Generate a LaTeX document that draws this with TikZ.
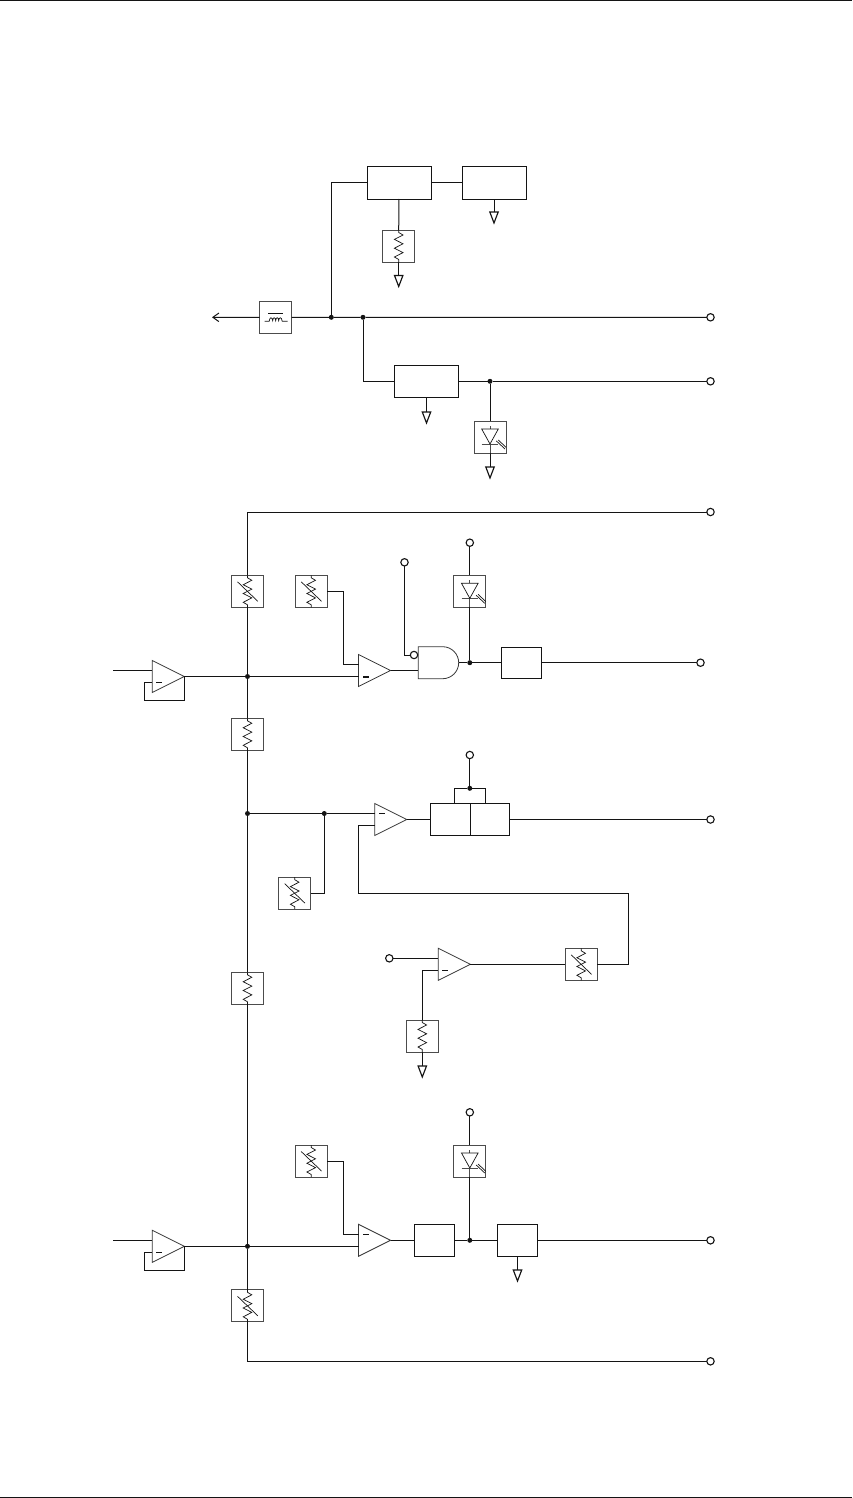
\documentclass[tikz,border=0pt]{standalone}
\usetikzlibrary{arrows.meta}
\definecolor{ink}{gray}{0.08}
\definecolor{soft}{gray}{0.3}
\tikzset{
  wire/.style={draw=ink,line width=1pt},
  blk/.style={draw=ink,line width=0.95pt,rectangle,inner sep=0pt,outer sep=0pt,fill=white},
  sqbox/.style={draw=soft,line width=0.95pt,rectangle,inner sep=0pt,outer sep=0pt,minimum width=32pt,minimum height=32pt,fill=white},
  glyph/.style={draw=ink,line width=0.7pt},
  softglyph/.style={draw=soft,line width=0.9pt},
  term/.style={draw=ink,line width=1.1pt,circle,fill=white,inner sep=0pt,outer sep=0pt,minimum size=7.4pt},
  jun/.style={fill=ink,circle,inner sep=0pt,outer sep=0pt,minimum size=5pt},
  gndtri/.style={draw=ink,line width=1.15pt,fill=white,line join=miter},
  amptri/.style={draw=ink!85,line width=0.8pt,fill=white},
  minus/.style={draw=ink,line width=0.75pt},
  boldminus/.style={draw=ink,line width=1.6pt}
}
% resistor zigzag inside box #1
\newcommand{\zigzag}[1]{\draw[glyph,shift={(#1.center)}]
  (0,-16) -- (0,-13.5) -- (4.3,-11) -- (-4.3,-6.6) -- (4.3,-2.2) -- (-4.3,2.2) -- (4.3,6.6) -- (-4.3,11) -- (0,13.5) -- (0,16);}
\newcommand{\resbox}[2]{\node[sqbox] (#1) at (#2) {};\zigzag{#1}}
\newcommand{\varbox}[2]{\node[sqbox] (#1) at (#2) {};\zigzag{#1}
  \draw[glyph,shift={(#1.center)}] (-10,-9.5) -- (10.3,10);}
\newcommand{\ledbox}[2]{\node[sqbox] (#1) at (#2) {};
  \draw[softglyph,shift={(#1.center)}] (0,-11) -- (0,-8) (0,7) -- (0,16) (-8.3,7) -- (8.3,7);
  \draw[glyph,shift={(#1.center)}] (-8.3,-8) -- (8.3,-8) -- (0,7) -- cycle;
  \draw[glyph,shift={(#1.center)}] (6.3,3.9) -- (15,12) (8.3,3) -- (16,10.3);}
% amplifier: name, tip y, left x
\newcommand{\amp}[3]{%
  \coordinate (#1-tip) at (#3+32,#2);
  \coordinate (#1-up) at (#3,#2-6);
  \coordinate (#1-dn) at (#3,#2+6);
  \draw[amptri] (#3,#2-16) -- (#3+32,#2) -- (#3,#2+16) -- cycle;}
% ground: name, x, top y
\newcommand{\gnd}[3]{%
  \coordinate (#1) at (#2,#3);
  \draw[gndtri] (#2-4.2,#3) -- (#2+4.2,#3) -- (#2,#3+11) -- cycle;}
\begin{document}
\begin{tikzpicture}[x=1pt,y=-1pt]
\useasboundingbox (0,0) rectangle (852,1498);
\fill[white] (0,0) rectangle (852,1498);
\draw[wire] (0,0.5) -- (852,0.5);
\draw[wire] (0,1497.2) -- (852,1497.2);

% ---------- top section
\node[blk,minimum width=64pt,minimum height=33pt] (A) at (399,182.5) {};
\node[blk,minimum width=64pt,minimum height=33pt] (B) at (494,182.5) {};
\resbox{RA}{398.7,246}
\gnd{gA}{398.7}{275.5}
\gnd{gB}{494}{212}
\node[sqbox] (IND) at (275.7,317.5) {};
\draw[glyph,shift={(IND.center)}] (-7.7,-3.7) -- (7.7,-3.7);
\draw[glyph,shift={(IND.center)}] (-11,3.7) -- (-6.5,3.7)
  .. controls (-6,-0.8) and (-3.5,-0.8) .. (-3,3.2)
  .. controls (-2.8,-0.8) and (-0.3,-0.8) .. (0,3.2)
  .. controls (0.2,-0.8) and (2.8,-0.8) .. (3,3.2)
  .. controls (3.2,-0.8) and (6,-0.8) .. (6.5,3.7) -- (12,3.7);
\coordinate (OUTL) at (212,317.3);
\node[term] (T1) at (710.5,317.3) {};
\node[jun] (J1) at (331.3,317.3) {};
\node[jun] (J2) at (363,317.3) {};
\node[blk,minimum width=64.4pt,minimum height=32pt] (C) at (426.5,381.3) {};
\gnd{gC}{426.5}{412}
\node[term] (T2) at (710.5,381.3) {};
\node[jun] (J3) at (490,381.3) {};
\ledbox{LA}{490,437}
\gnd{gL}{490}{467}

\draw[wire] (A.west) -| (J1);
\draw[wire] (A.east) -- (B.west);
\draw[wire] (A.south) -- (RA.north);
\draw[wire] (RA.south) -- (gA);
\draw[wire] (B.south) -- (gB);
\draw[wire,-{Straight Barb[length=6pt,width=8.5pt]}] (IND.west) -- (OUTL);
\draw[wire] (IND.east) -- (J1) -- (J2) -- (T1);
\draw[wire] (J2) |- (C.west);
\draw[wire] (C.south) -- (gC);
\draw[wire] (C.east) -- (J3) -- (T2);
\draw[wire] (J3) -- (LA.north);
\draw[wire] (LA.south) -- (gL);

% ---------- second section
\node[term] (T3) at (710.5,512) {};
\varbox{V1}{247.5,591.3}
\varbox{V2}{311.2,591.3}
\resbox{R1}{247.5,734.3}
\amp{a1}{676.5}{152.3}
\amp{a2}{670.5}{358.5}
\coordinate (i1) at (113,670.5);
\node[jun] (J4) at (247.5,676.5) {};
\draw[minus] (156,682.5) -- (162,682.5);
\draw[boldminus] (363.3,676.8) -- (368.8,676.8);
\draw[wire] (T3) -| (V1.north);
\draw[wire] (V1.south) -- (J4) -- (R1.north);
\draw[wire] (i1) -- (a1-up);
\draw[wire] (a1-dn) -- ++(-8,0) -- ++(0,18) -- ++(40,0) -- (a1-tip);
\draw[wire] (a1-tip) -- (J4) -- (a2-dn);
\draw[wire] (V2.east) -| (343.3,664.5) -- (a2-up);

% gate
\coordinate (G-w) at (418.3,670.5);
\coordinate (G-e) at (458.7,662.7);
\draw[draw=ink!85,line width=0.8pt,fill=white] (418.3,646.7) -- (442.7,646.7)
  .. controls (451.5,646.7) and (458.7,653.9) .. (G-e)
  .. controls (458.7,671.5) and (451.5,678.7) .. (442.7,678.7) -- (418.3,678.7) -- cycle;
\node[term] (BUB) at (414,655) {};
\node[term] (T8) at (404.5,562.3) {};
\node[term] (T9) at (469.8,542.7) {};
\ledbox{L2}{469.8,591.3}
\node[jun] (J5) at (469.8,662.7) {};
\node[blk,minimum width=40.4pt,minimum height=31pt] (D1) at (521.5,662.7) {};
\node[term] (T4) at (700.5,662.7) {};
\draw[wire] (a2-tip) -- (G-w);
\draw[wire] (T8) |- (BUB.west);
\draw[wire] (T9) -- (L2.north);
\draw[wire] (L2.south) -- (J5);
\draw[wire] (G-e) -- (J5) -- (D1.west);
\draw[wire] (D1.east) -- (T4);

% ---------- third section
\resbox{R2}{247.5,988.3}
\node[jun] (J6) at (247.5,813.5) {};
\node[jun] (J7) at (324.3,813.5) {};
\varbox{V3}{294.7,893.2}
\amp{a3}{819.5}{374.7}
\draw[minus] (379,813.5) -- (385,813.5);
\node[blk,minimum width=40.4pt,minimum height=32pt] (E1) at (450.5,819.5) {};
\node[blk,minimum width=39pt,minimum height=32pt] (E2) at (490.2,819.5) {};
\node[jun] (J8) at (469.8,788.3) {};
\node[term] (T10) at (469.8,755) {};
\node[term] (T5) at (710.5,819.5) {};
\coordinate (E1t) at (454.7,803.5);
\coordinate (E2t) at (485.7,803.5);
\amp{a4}{964.3}{438.3}
\draw[minus] (442,970.3) -- (448,970.3);
\node[term] (T11) at (389.3,958.3) {};
\varbox{V4}{581.2,964.3}
\resbox{R3}{422.3,1036}
\gnd{gR3}{422.3}{1066}
\draw[wire] (R1.south) -- (J6) -- (R2.north);
\draw[wire] (J6) -- (J7) -- (a3-up);
\draw[wire] (V3.east) -| (J7);
\draw[wire] (a3-tip) -- (E1.west);
\draw[wire] (E2.east) -- (T5);
\draw[wire] (E1t) -- (454.7,788.3) -- (J8) -- (485.7,788.3) -- (E2t);
\draw[wire] (T10) -- (J8);
\draw[wire] (V4.east) -- (628.7,964.3) -- (628.7,893.3) -- (358.3,893.3) -- (358.3,825.5) -- (a3-dn);
\draw[wire] (a4-tip) -- (V4.west);
\draw[wire] (T11) -- (a4-up);
\draw[wire] (R3.north) |- (a4-dn);
\draw[wire] (R3.south) -- (gR3);

% ---------- bottom section
\amp{a5}{1246.3}{152.3}
\amp{a6}{1240.3}{358.5}
\coordinate (i5) at (113,1240.3);
\node[jun] (J9) at (247.5,1246.3) {};
\draw[minus] (156,1252.3) -- (162,1252.3);
\draw[minus] (363.3,1234.3) -- (369,1234.3);
\varbox{V5}{311.2,1161}
\ledbox{L3}{469.8,1161}
\node[term] (T12) at (469.8,1112.3) {};
\node[blk,minimum width=40pt,minimum height=32pt] (F1) at (434,1240.3) {};
\node[jun] (J10) at (469.8,1240.3) {};
\node[blk,minimum width=40.4pt,minimum height=32pt] (F2) at (517.5,1240.3) {};
\gnd{gF}{517.5}{1270}
\node[term] (T6) at (710.5,1240.3) {};
\varbox{V6}{247.5,1305.8}
\node[term] (T7) at (710.5,1361.3) {};
\draw[wire] (R2.south) -- (J9) -- (V6.north);
\draw[wire] (i5) -- (a5-up);
\draw[wire] (a5-dn) -- ++(-8,0) -- ++(0,18) -- ++(40,0) -- (a5-tip);
\draw[wire] (a5-tip) -- (J9) -- (a6-dn);
\draw[wire] (V5.east) -| (343.3,1234.3) -- (a6-up);
\draw[wire] (a6-tip) -- (F1.west);
\draw[wire] (F1.east) -- (J10) -- (F2.west);
\draw[wire] (F2.east) -- (T6);
\draw[wire] (F2.south) -- (gF);
\draw[wire] (T12) -- (L3.north);
\draw[wire] (L3.south) -- (J10);
\draw[wire] (V6.south) |- (T7);
\end{tikzpicture}
\end{document}
